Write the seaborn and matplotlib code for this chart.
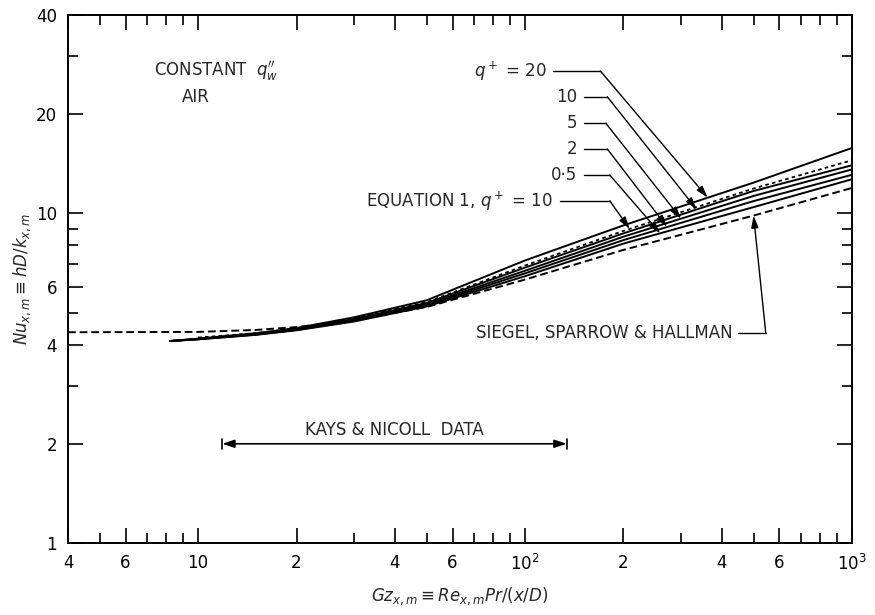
import numpy as np
import pandas as pd
import matplotlib
matplotlib.use("Agg")
import matplotlib.pyplot as plt
import seaborn as sns

# ---- data ----
gz_solid = [8.2, 10, 15, 20, 30, 50, 100, 200, 500, 1000]
nu_q05 = [4.10, 4.15, 4.28, 4.42, 4.70, 5.22, 6.45, 8.10, 10.45, 12.7]
nu_q2  = [4.10, 4.15, 4.29, 4.43, 4.72, 5.26, 6.58, 8.30, 10.90, 13.1]
nu_q5  = [4.10, 4.16, 4.30, 4.45, 4.75, 5.30, 6.70, 8.50, 11.30, 13.6]
nu_q10 = [4.10, 4.16, 4.31, 4.46, 4.78, 5.35, 6.85, 8.70, 11.70, 14.0]
nu_q20 = [4.10, 4.17, 4.33, 4.49, 4.84, 5.45, 7.20, 9.20, 12.40, 15.8]

gz_eq1 = [10, 15, 20, 30, 50, 100, 200, 500, 1000]
nu_eq1 = [4.20, 4.33, 4.48, 4.80, 5.38, 6.95, 8.85, 11.90, 14.5]

gz_ssh = [4, 10, 15, 20, 30, 50, 100, 200, 500, 1000]
nu_ssh = [4.36, 4.37, 4.43, 4.52, 4.74, 5.20, 6.30, 7.75, 9.85, 11.95]

kays_range = [11.85, 134.0]
kays_nu = 2.0

x_ticks = [4, 6, 10, 20, 40, 60, 100, 200, 400, 600, 1000]
x_ticklabels = ["4", "6", "10", "2", "4", "6", "$10^2$", "2", "4", "6", "$10^3$"]
y_ticks = [1, 2, 4, 6, 10, 20, 40]
y_ticklabels = ["1", "2", "4", "6", "10", "20", "40"]

# ---- figure ----
sns.set_theme(style="ticks")
plt.rcParams["font.family"] = ["DejaVu Sans"]
fig = plt.figure(figsize=(8.75, 6.15), dpi=100)
ax = fig.add_axes([68 / 875, 1 - 543 / 615, (852 - 68) / 875, (543 - 15) / 615])
ax.set_facecolor("white")

lw = 1.4
for nu in [nu_q05, nu_q2, nu_q5, nu_q10, nu_q20]:
    sns.lineplot(x=gz_solid, y=nu, ax=ax, color="black", lw=lw, estimator=None, sort=False)
sns.lineplot(x=gz_eq1, y=nu_eq1, ax=ax, color="black", lw=1.3, estimator=None, sort=False,
             linestyle=(0, (2.0, 1.8)))
sns.lineplot(x=gz_ssh, y=nu_ssh, ax=ax, color="black", lw=1.4, estimator=None, sort=False,
             linestyle=(0, (4, 2)))

ax.set_xscale("log")
ax.set_yscale("log")
ax.set_xlim(4, 1000)
ax.set_ylim(1, 40)

ax.set_xticks(x_ticks)
ax.set_xticklabels(x_ticklabels)
ax.set_yticks(y_ticks)
ax.set_yticklabels(y_ticklabels)
ax.xaxis.set_minor_locator(matplotlib.ticker.LogLocator(base=10, subs=np.arange(2, 10)))
ax.yaxis.set_minor_locator(matplotlib.ticker.LogLocator(base=10, subs=np.arange(2, 10)))
ax.xaxis.set_minor_formatter(matplotlib.ticker.NullFormatter())
ax.yaxis.set_minor_formatter(matplotlib.ticker.NullFormatter())
ax.tick_params(which="both", direction="in", top=True, right=True, colors="black",
               labelsize=12, width=1.2)
ax.tick_params(which="major", length=11, pad=8)
ax.tick_params(which="minor", length=7)
for s in ax.spines.values():
    s.set_color("black")
    s.set_linewidth(1.4)

ax.set_xlabel(r"$Gz_{x,m} \equiv Re_{x,m} Pr/(x/D)$", fontsize=12, labelpad=8)
ax.set_ylabel(r"$Nu_{x,m} \equiv hD/k_{x,m}$", fontsize=12, labelpad=2)

# ---- annotations ----
fs = 12
ax.text(0.11, 0.894, r"CONSTANT  $q_w''$", transform=ax.transAxes, fontsize=fs, va="center")
ax.text(0.145, 0.845, "AIR", transform=ax.transAxes, fontsize=fs, va="center")

def curve_at(gz, xs, ys):
    return 10 ** np.interp(np.log10(gz), np.log10(xs), np.log10(ys))

arrow_kw = dict(arrowstyle="-|>,head_length=0.6,head_width=0.18", color="black", lw=1.0,
                shrinkA=0, shrinkB=0)

# label rows: (label, y_text, x_text_right, x_corner, gz_tip, curve, curve_x)
rows = [
    ("$q^+$ = 20", 0.894, 0.611, 0.679, 362, nu_q20, gz_solid),
    ("10", 0.845, 0.650, 0.688, 335, nu_q10, gz_solid),
    ("5", 0.795, 0.650, 0.686, 300, nu_q5, gz_solid),
    ("2", 0.746, 0.650, 0.688, 272, nu_q2, gz_solid),
    ("0·5", 0.697, 0.650, 0.691, 259, nu_q05, gz_solid),
    ("EQUATION 1, $q^+$ = 10", 0.648, 0.619, 0.691, 209, nu_eq1, gz_eq1),
]
for lab, yt, xr, xc, gtip, nu, gx in rows:
    ax.text(xr, yt, lab, transform=ax.transAxes, fontsize=fs, ha="right", va="center")
    ax.plot([xr + 0.008, xc], [yt, yt], transform=ax.transAxes, color="black", lw=1.0)
    tip = (gtip, curve_at(gtip, gx, nu))
    ax.annotate("", xy=tip, xycoords="data", xytext=(xc, yt), textcoords="axes fraction",
                arrowprops=arrow_kw)

# Siegel, Sparrow & Hallman label
ax.text(0.848, 0.398, "SIEGEL, SPARROW & HALLMAN", transform=ax.transAxes, fontsize=fs,
        ha="right", va="center")
ax.plot([0.855, 0.89], [0.398, 0.398], transform=ax.transAxes, color="black", lw=1.0)
gtip = 500
ax.annotate("", xy=(gtip, curve_at(gtip, gz_ssh, nu_ssh)), xycoords="data",
            xytext=(0.89, 0.398), textcoords="axes fraction", arrowprops=arrow_kw)

# Kays & Nicoll data range
ax.annotate("", xy=(kays_range[0], kays_nu), xytext=(kays_range[1], kays_nu),
            arrowprops=dict(arrowstyle="<|-|>,head_length=0.6,head_width=0.2", color="black",
                            lw=1.2, shrinkA=0, shrinkB=0))
for g in kays_range:
    ax.plot([g, g], [kays_nu * 0.965, kays_nu * 1.035], color="black", lw=1.2)
ax.text(np.sqrt(kays_range[0] * kays_range[1]), kays_nu * 1.1, "KAYS & NICOLL  DATA",
        fontsize=fs, ha="center", va="center")

fig.savefig("out.png", dpi=100, facecolor="white")
